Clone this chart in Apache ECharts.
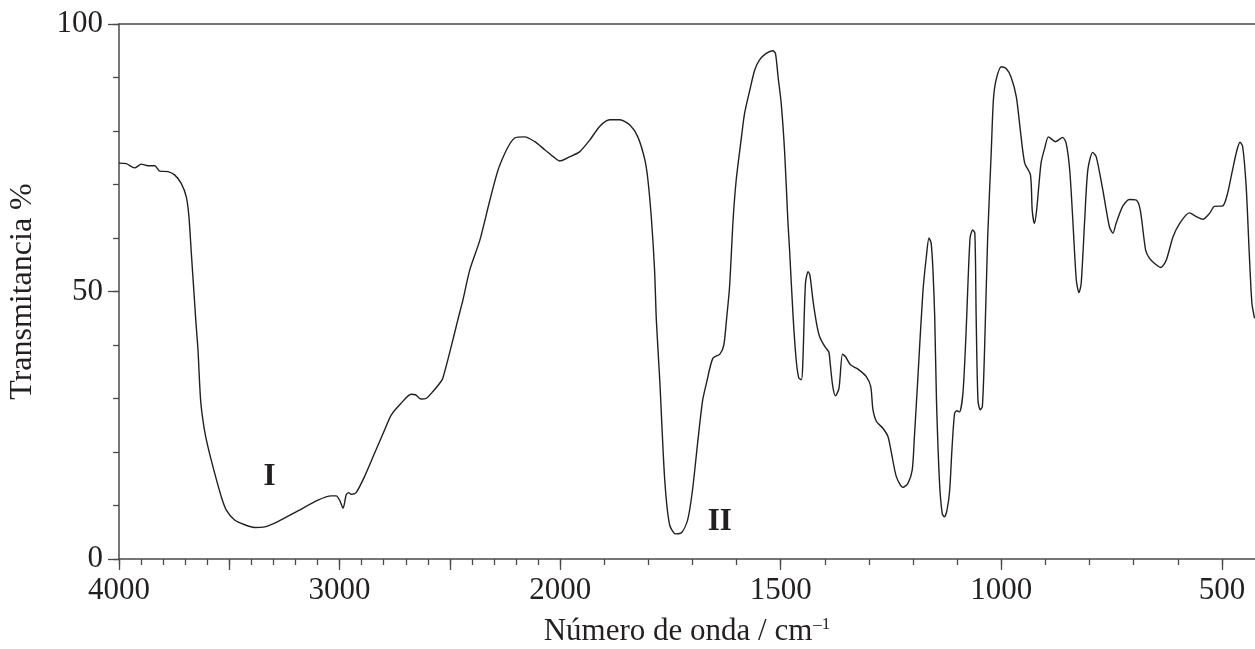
<!DOCTYPE html>
<html>
<head>
<meta charset="utf-8">
<script src="https://cdn.jsdelivr.net/npm/echarts@6/dist/echarts.min.js"></script>
<style>
html,body{margin:0;padding:0;background:#fff;}
#chart{width:1255px;height:649px;}
</style>
</head>
<body>
<div id="chart"></div>
<script>
// Wavenumber (cm^-1) and transmittance (%)
const wavenumbers = [4000,3967,3929,3899,3869,3838,3816,3778,3748,3718,3695,3683,3672,3660,3652,3642,3630,3615,3597,3566,3536,3514,3476,3430,3385,3340,3280,3189,3098,3038,3015,3000,2984,2970,2959,2947,2925,2887,2841,2796,2766,2721,2676,2656,2630,2608,2577,2547,2532,2494,2464,2441,2410,2364,2319,2274,2206,2160,2115,2070,2025,2002,
1978,1956,1933,1910,1888,1865,1842,1824,1808,1801,1793,1786,1782,1774,1763,1752,1738,1725,1711,1700,1688,1677,1668,1654,1638,1629,1623,1616,1608,1601,1589,1582,1570,1559,1548,1533,1518,1512,1506,1499,1491,1484,1480,1472,1465,1459,1453,1450,1444,1438,1434,1427,1419,1412,1400,1391,1388,1382,1376,1368,1360,1353,1342,1325,1306,1296,1291,1283,1268,1257,1249,1238,1223,1212,1202,1197,1189,1178,1170,1164,1159,1155,1151,1147,1140,1134,1129,1123,1117,1112,1106,1101,1095,1087,1080,1071,1065,1060,1057,1053,1048,1043,1038,1031,1023,1018,1012,1000,989,978,966,957,947,934,930,925,920,910,902,893,877,861,853,845,838,830,824,819,811,804,793,785,770,755,747,740,725,710,694,685,673,664,649,638,626,611,596,574,558,543,528,517,498,487,476,466,459,453,445,438,432,426];
const transmittance = [74.0,73.9,73.1,73.8,73.5,73.5,72.5,72.4,71.8,70.2,67.7,64.0,57.1,49.7,44.7,39.1,29.7,24.7,21.0,16.0,11.6,9.2,7.3,6.4,5.9,6.0,7.0,9.0,11.0,11.8,11.8,11.0,9.5,12.0,12.4,12.1,12.4,15.4,19.8,24.1,26.9,29.1,30.8,30.7,29.9,30.0,31.3,32.8,33.8,39.7,44.7,48.4,54.0,59.6,67.0,73.6,78.7,78.9,78.0,76.5,75.0,74.4,
75.2,76.1,78.3,80.9,82.1,82.1,81.1,78.9,74.6,70.8,63.4,54.0,44.7,33.0,14.8,6.4,4.7,4.9,7.3,12.9,22.0,29.7,33.0,37.5,38.3,40.0,44.7,50.9,63.4,70.8,78.9,83.3,87.7,91.4,93.3,94.5,95.0,94.5,90.1,85.2,75.8,63.4,57.8,45.3,37.2,33.8,33.5,36.6,51.5,53.7,53.1,48.4,44.1,41.6,39.7,38.7,36.6,32.2,30.5,31.9,38.3,37.8,36.3,35.5,34.1,32.2,27.9,25.7,24.4,22.9,19.8,15.4,13.4,14.1,16.6,22.9,34.1,49.7,56.5,60.0,59.0,54.0,45.3,29.7,14.1,8.5,7.9,9.2,12.9,20.4,27.2,27.7,27.5,31.0,42.2,59.9,61.5,60.9,45.0,29.7,27.9,28.5,39.1,60.0,75.8,85.8,89.5,92.0,91.7,90.1,86.4,80.2,74.0,71.8,65.2,62.7,65.2,74.0,76.7,78.9,78.0,78.8,77.7,72.7,63.4,52.1,49.8,51.5,63.4,72.7,76.0,75.2,69.0,62.1,60.9,62.7,65.9,67.2,67.1,65.2,57.8,56.2,55.0,54.5,55.9,60.2,62.7,64.7,64.0,63.5,64.6,65.9,66.0,68.4,72.7,76.4,77.9,77.1,69.6,57.1,47.8,45.0];

// Axis ticks / labels (wavenumbers)
const xLabelWn = [4000,3000,2000,1500,1000,500];
const xMajorTickWn = [4000,3500,3000,2500,2000,1500,1000,500];
const xMinorTickWn = [];
for (let w = 4000; w >= 500; w -= 100) xMinorTickWn.push(w);
const xEndWn = 425;
const yLabels = [0,50,100];

// Annotations
const annWn = [3318,1638];
const annT = [15.3,6.9];
const annText = ['I','II'];

// Piecewise axis: 4000-2000 compressed (1000 per unit), 2000-400 expanded (500 per unit)
function toP(w){ return w >= 2000 ? (4000 - w)/1000 : 2 + (2000 - w)/500; }
function fromP(p){ return p <= 2 ? Math.round(4000 - p*1000) : Math.round(2000 - (p-2)*500); }

const lineData = wavenumbers.map((w,i)=>[toP(w), transmittance[i]]);
const annData = annWn.map((w,i)=>({value:[toP(w), annT[i]], name:annText[i]}));

const FONT = '"Liberation Serif","Times New Roman",serif';
const TXT = '#231f20';
const AX = '#4a4a4a';
const pMax = toP(xEndWn);

const chart = echarts.init(document.getElementById('chart'), null, {renderer:'canvas'});
chart.setOption({
  animation:false,
  backgroundColor:'#fff',
  grid:{left:119,right:0,top:24,bottom:90,containLabel:false,outerBoundsMode:'none'},
  xAxis:[
    {type:'value',min:0,max:pMax,position:'bottom',
     axisLine:{show:true,lineStyle:{color:AX,width:1.5}},
     axisTick:{show:true,inside:false,length:6,lineStyle:{color:AX,width:1.3},customValues:xMinorTickWn.map(toP)},
     axisLabel:{show:false},splitLine:{show:false},
     name:'{a|Número de onda / cm}{s|–1}',nameLocation:'middle',nameGap:57,
     nameTextStyle:{fontFamily:FONT,color:TXT,fontSize:31,
       rich:{a:{fontFamily:FONT,color:TXT,fontSize:31,verticalAlign:'bottom'},
             s:{fontFamily:FONT,color:TXT,fontSize:17,verticalAlign:'top',padding:[0,0,0,1]}}}},
    {type:'value',min:0,max:pMax,position:'bottom',
     axisLine:{show:false},
     axisTick:{show:true,inside:false,length:11,lineStyle:{color:AX,width:1.3},customValues:xMajorTickWn.map(toP)},
     axisLabel:{show:true,margin:16,fontFamily:FONT,fontSize:31,color:TXT,customValues:xLabelWn.map(toP),
       formatter:function(v){return String(fromP(v));}},
     splitLine:{show:false}},
    {type:'value',min:0,max:pMax,position:'top',
     axisLine:{show:true,lineStyle:{color:AX,width:1.5}},
     axisTick:{show:false},axisLabel:{show:false},splitLine:{show:false}}
  ],
  yAxis:[
    {type:'value',min:0,max:100,interval:10,position:'left',
     axisLine:{show:true,lineStyle:{color:AX,width:1.5}},
     axisTick:{show:true,inside:false,length:6,lineStyle:{color:AX,width:1.3}},
     axisLabel:{show:false},splitLine:{show:false},
     name:'Transmitancia %',nameLocation:'middle',nameGap:80,nameRotate:90,
     nameTextStyle:{fontFamily:FONT,color:TXT,fontSize:32}},
    {type:'value',min:0,max:100,interval:50,position:'left',
     axisLine:{show:false},
     axisTick:{show:true,inside:false,length:11,lineStyle:{color:AX,width:1.3}},
     axisLabel:{show:true,margin:16,fontFamily:FONT,fontSize:31,color:TXT,customValues:yLabels},
     splitLine:{show:false}}
  ],
  series:[
    {type:'line',xAxisIndex:0,yAxisIndex:0,data:lineData,showSymbol:false,symbol:'none',
     smooth:0.25,lineStyle:{color:'#231f20',width:1.4},clip:true,z:3},
    {type:'scatter',xAxisIndex:0,yAxisIndex:0,data:annData,symbolSize:0,
     itemStyle:{opacity:1},
     label:{show:true,position:'inside',opacity:1,formatter:function(p){return p.name;},
       fontFamily:FONT,fontWeight:'bold',fontSize:31,color:TXT},
     emphasis:{disabled:true},z:4}
  ]
});
</script>
</body>
</html>
